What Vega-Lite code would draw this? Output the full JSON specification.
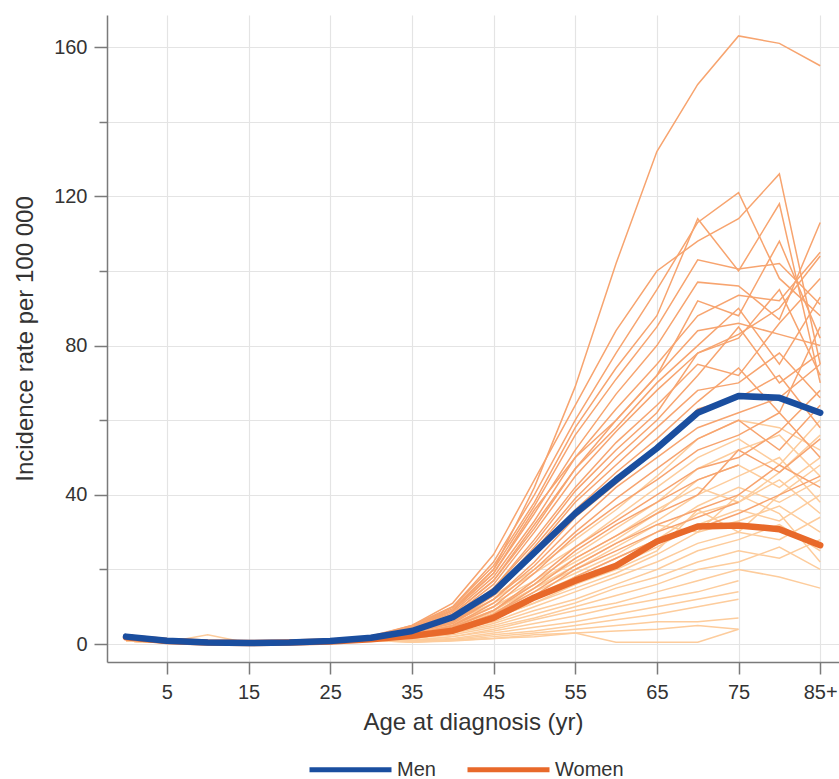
{
"$schema":"https://vega.github.io/schema/vega-lite/v6.json",
"width":732,"height":647,"autosize":"none",
"padding":{"left":107,"top":15,"right":0,"bottom":117},
"background":"white",
"config":{"view":{"stroke":null},"font":"Liberation Sans",
"axis":{"domainColor":"#7a7a7a","domainWidth":1.5,"tickColor":"#7a7a7a","tickWidth":1.5,"gridColor":"#e4e4e4","gridWidth":1.2,"labelColor":"#333","labelFontSize":20,"titleFontSize":24,"titleFontWeight":"normal","titleColor":"#333"},
"legend":{"symbolType":"stroke","symbolStrokeWidth":5,"labelFontSize":20,"labelColor":"#333"}},
"datasets":{
"menReg":[
{"r":"m01","a":0,"v":2.5},{"r":"m01","a":5,"v":1},{"r":"m01","a":10,"v":0.4},{"r":"m01","a":15,"v":0.3},{"r":"m01","a":20,"v":0.5},{"r":"m01","a":25,"v":1},{"r":"m01","a":30,"v":2.2},{"r":"m01","a":35,"v":4.5},{"r":"m01","a":40,"v":9},{"r":"m01","a":45,"v":20},{"r":"m01","a":50,"v":42},{"r":"m01","a":55,"v":69},{"r":"m01","a":60,"v":102},{"r":"m01","a":65,"v":132},{"r":"m01","a":70,"v":150},{"r":"m01","a":75,"v":163},{"r":"m01","a":80,"v":161},{"r":"m01","a":85,"v":155},
{"r":"m02","a":0,"v":2},{"r":"m02","a":5,"v":0.8},{"r":"m02","a":10,"v":0.3},{"r":"m02","a":15,"v":0.2},{"r":"m02","a":20,"v":0.4},{"r":"m02","a":25,"v":0.9},{"r":"m02","a":30,"v":2},{"r":"m02","a":35,"v":5},{"r":"m02","a":40,"v":11},{"r":"m02","a":45,"v":24},{"r":"m02","a":50,"v":44},{"r":"m02","a":55,"v":64},{"r":"m02","a":60,"v":84},{"r":"m02","a":65,"v":100},{"r":"m02","a":70,"v":108},{"r":"m02","a":75,"v":114},{"r":"m02","a":80,"v":126},{"r":"m02","a":85,"v":75},
{"r":"m03","a":0,"v":1.5},{"r":"m03","a":5,"v":0.6},{"r":"m03","a":10,"v":0.3},{"r":"m03","a":15,"v":0.2},{"r":"m03","a":20,"v":0.3},{"r":"m03","a":25,"v":0.7},{"r":"m03","a":30,"v":1.6},{"r":"m03","a":35,"v":4.5},{"r":"m03","a":40,"v":10},{"r":"m03","a":45,"v":22},{"r":"m03","a":50,"v":40},{"r":"m03","a":55,"v":60},{"r":"m03","a":60,"v":78},{"r":"m03","a":65,"v":95},{"r":"m03","a":70,"v":113},{"r":"m03","a":75,"v":121},{"r":"m03","a":80,"v":98},{"r":"m03","a":85,"v":88},
{"r":"m04","a":0,"v":2.5},{"r":"m04","a":5,"v":1},{"r":"m04","a":10,"v":0.4},{"r":"m04","a":15,"v":0.3},{"r":"m04","a":20,"v":0.5},{"r":"m04","a":25,"v":1},{"r":"m04","a":30,"v":2.2},{"r":"m04","a":35,"v":5},{"r":"m04","a":40,"v":10},{"r":"m04","a":45,"v":21},{"r":"m04","a":50,"v":38},{"r":"m04","a":55,"v":58},{"r":"m04","a":60,"v":74},{"r":"m04","a":65,"v":88},{"r":"m04","a":70,"v":114},{"r":"m04","a":75,"v":100},{"r":"m04","a":80,"v":118},{"r":"m04","a":85,"v":70},
{"r":"m05","a":0,"v":2},{"r":"m05","a":5,"v":0.8},{"r":"m05","a":10,"v":0.3},{"r":"m05","a":15,"v":0.2},{"r":"m05","a":20,"v":0.4},{"r":"m05","a":25,"v":0.9},{"r":"m05","a":30,"v":2},{"r":"m05","a":35,"v":4.5},{"r":"m05","a":40,"v":9.5},{"r":"m05","a":45,"v":20},{"r":"m05","a":50,"v":37},{"r":"m05","a":55,"v":56},{"r":"m05","a":60,"v":71},{"r":"m05","a":65,"v":85},{"r":"m05","a":70,"v":103},{"r":"m05","a":75,"v":100.5},{"r":"m05","a":80,"v":102},{"r":"m05","a":85,"v":91},
{"r":"m06","a":0,"v":1.5},{"r":"m06","a":5,"v":0.6},{"r":"m06","a":10,"v":0.3},{"r":"m06","a":15,"v":0.2},{"r":"m06","a":20,"v":0.3},{"r":"m06","a":25,"v":0.7},{"r":"m06","a":30,"v":1.6},{"r":"m06","a":35,"v":4.5},{"r":"m06","a":40,"v":9},{"r":"m06","a":45,"v":19},{"r":"m06","a":50,"v":35},{"r":"m06","a":55,"v":52},{"r":"m06","a":60,"v":67},{"r":"m06","a":65,"v":80},{"r":"m06","a":70,"v":97},{"r":"m06","a":75,"v":96},{"r":"m06","a":80,"v":87},{"r":"m06","a":85,"v":113},
{"r":"m07","a":0,"v":2.5},{"r":"m07","a":5,"v":1},{"r":"m07","a":10,"v":0.4},{"r":"m07","a":15,"v":0.3},{"r":"m07","a":20,"v":0.5},{"r":"m07","a":25,"v":1},{"r":"m07","a":30,"v":2.2},{"r":"m07","a":35,"v":4},{"r":"m07","a":40,"v":8.5},{"r":"m07","a":45,"v":18},{"r":"m07","a":50,"v":33},{"r":"m07","a":55,"v":50},{"r":"m07","a":60,"v":63},{"r":"m07","a":65,"v":75},{"r":"m07","a":70,"v":88},{"r":"m07","a":75,"v":93.5},{"r":"m07","a":80,"v":92},{"r":"m07","a":85,"v":105},
{"r":"m08","a":0,"v":2},{"r":"m08","a":5,"v":0.8},{"r":"m08","a":10,"v":0.3},{"r":"m08","a":15,"v":0.2},{"r":"m08","a":20,"v":0.4},{"r":"m08","a":25,"v":0.9},{"r":"m08","a":30,"v":2},{"r":"m08","a":35,"v":4},{"r":"m08","a":40,"v":8},{"r":"m08","a":45,"v":17},{"r":"m08","a":50,"v":31},{"r":"m08","a":55,"v":47},{"r":"m08","a":60,"v":60},{"r":"m08","a":65,"v":72},{"r":"m08","a":70,"v":84},{"r":"m08","a":75,"v":86},{"r":"m08","a":80,"v":83},{"r":"m08","a":85,"v":80},
{"r":"m09","a":0,"v":1.5},{"r":"m09","a":5,"v":0.6},{"r":"m09","a":10,"v":0.3},{"r":"m09","a":15,"v":0.2},{"r":"m09","a":20,"v":0.3},{"r":"m09","a":25,"v":0.7},{"r":"m09","a":30,"v":1.6},{"r":"m09","a":35,"v":4},{"r":"m09","a":40,"v":8},{"r":"m09","a":45,"v":17},{"r":"m09","a":50,"v":32},{"r":"m09","a":55,"v":47},{"r":"m09","a":60,"v":58},{"r":"m09","a":65,"v":70},{"r":"m09","a":70,"v":80},{"r":"m09","a":75,"v":90},{"r":"m09","a":80,"v":75},{"r":"m09","a":85,"v":93},
{"r":"m10","a":0,"v":2.5},{"r":"m10","a":5,"v":1},{"r":"m10","a":10,"v":0.4},{"r":"m10","a":15,"v":0.3},{"r":"m10","a":20,"v":0.5},{"r":"m10","a":25,"v":1},{"r":"m10","a":30,"v":2.2},{"r":"m10","a":35,"v":3.5},{"r":"m10","a":40,"v":7.5},{"r":"m10","a":45,"v":16},{"r":"m10","a":50,"v":30},{"r":"m10","a":55,"v":45},{"r":"m10","a":60,"v":57},{"r":"m10","a":65,"v":68},{"r":"m10","a":70,"v":78},{"r":"m10","a":75,"v":82},{"r":"m10","a":80,"v":95},{"r":"m10","a":85,"v":72},
{"r":"m11","a":0,"v":2},{"r":"m11","a":5,"v":0.8},{"r":"m11","a":10,"v":0.3},{"r":"m11","a":15,"v":0.2},{"r":"m11","a":20,"v":0.4},{"r":"m11","a":25,"v":0.9},{"r":"m11","a":30,"v":2},{"r":"m11","a":35,"v":3.5},{"r":"m11","a":40,"v":7},{"r":"m11","a":45,"v":15},{"r":"m11","a":50,"v":28},{"r":"m11","a":55,"v":42},{"r":"m11","a":60,"v":54},{"r":"m11","a":65,"v":64},{"r":"m11","a":70,"v":75},{"r":"m11","a":75,"v":72},{"r":"m11","a":80,"v":86},{"r":"m11","a":85,"v":98},
{"r":"m12","a":0,"v":1.5},{"r":"m12","a":5,"v":0.6},{"r":"m12","a":10,"v":0.3},{"r":"m12","a":15,"v":0.2},{"r":"m12","a":20,"v":0.3},{"r":"m12","a":25,"v":0.7},{"r":"m12","a":30,"v":1.6},{"r":"m12","a":35,"v":3.5},{"r":"m12","a":40,"v":7},{"r":"m12","a":45,"v":14},{"r":"m12","a":50,"v":26},{"r":"m12","a":55,"v":39},{"r":"m12","a":60,"v":50},{"r":"m12","a":65,"v":60},{"r":"m12","a":70,"v":72},{"r":"m12","a":75,"v":85},{"r":"m12","a":80,"v":70},{"r":"m12","a":85,"v":78},
{"r":"m13","a":0,"v":2.5},{"r":"m13","a":5,"v":1},{"r":"m13","a":10,"v":0.4},{"r":"m13","a":15,"v":0.3},{"r":"m13","a":20,"v":0.5},{"r":"m13","a":25,"v":1},{"r":"m13","a":30,"v":2.2},{"r":"m13","a":35,"v":3},{"r":"m13","a":40,"v":6.5},{"r":"m13","a":45,"v":14},{"r":"m13","a":50,"v":25},{"r":"m13","a":55,"v":38},{"r":"m13","a":60,"v":48},{"r":"m13","a":65,"v":58},{"r":"m13","a":70,"v":68},{"r":"m13","a":75,"v":70},{"r":"m13","a":80,"v":78},{"r":"m13","a":85,"v":66},
{"r":"m14","a":0,"v":2},{"r":"m14","a":5,"v":0.8},{"r":"m14","a":10,"v":0.3},{"r":"m14","a":15,"v":0.2},{"r":"m14","a":20,"v":0.4},{"r":"m14","a":25,"v":0.9},{"r":"m14","a":30,"v":2},{"r":"m14","a":35,"v":3},{"r":"m14","a":40,"v":6},{"r":"m14","a":45,"v":13},{"r":"m14","a":50,"v":24},{"r":"m14","a":55,"v":36},{"r":"m14","a":60,"v":46},{"r":"m14","a":65,"v":55},{"r":"m14","a":70,"v":65},{"r":"m14","a":75,"v":74},{"r":"m14","a":80,"v":62},{"r":"m14","a":85,"v":85},
{"r":"m15","a":0,"v":1.5},{"r":"m15","a":5,"v":0.6},{"r":"m15","a":10,"v":0.3},{"r":"m15","a":15,"v":0.2},{"r":"m15","a":20,"v":0.3},{"r":"m15","a":25,"v":0.7},{"r":"m15","a":30,"v":1.6},{"r":"m15","a":35,"v":3},{"r":"m15","a":40,"v":6},{"r":"m15","a":45,"v":12},{"r":"m15","a":50,"v":22},{"r":"m15","a":55,"v":34},{"r":"m15","a":60,"v":43},{"r":"m15","a":65,"v":52},{"r":"m15","a":70,"v":63},{"r":"m15","a":75,"v":66},{"r":"m15","a":80,"v":72},{"r":"m15","a":85,"v":58},
{"r":"m16","a":0,"v":2.5},{"r":"m16","a":5,"v":1},{"r":"m16","a":10,"v":0.4},{"r":"m16","a":15,"v":0.3},{"r":"m16","a":20,"v":0.5},{"r":"m16","a":25,"v":1},{"r":"m16","a":30,"v":2.2},{"r":"m16","a":35,"v":3},{"r":"m16","a":40,"v":5.5},{"r":"m16","a":45,"v":12},{"r":"m16","a":50,"v":21},{"r":"m16","a":55,"v":32},{"r":"m16","a":60,"v":42},{"r":"m16","a":65,"v":50},{"r":"m16","a":70,"v":58},{"r":"m16","a":75,"v":62},{"r":"m16","a":80,"v":66},{"r":"m16","a":85,"v":75},
{"r":"m17","a":0,"v":2},{"r":"m17","a":5,"v":0.8},{"r":"m17","a":10,"v":0.3},{"r":"m17","a":15,"v":0.2},{"r":"m17","a":20,"v":0.4},{"r":"m17","a":25,"v":0.9},{"r":"m17","a":30,"v":2},{"r":"m17","a":35,"v":2.5},{"r":"m17","a":40,"v":5},{"r":"m17","a":45,"v":11},{"r":"m17","a":50,"v":20},{"r":"m17","a":55,"v":30},{"r":"m17","a":60,"v":39},{"r":"m17","a":65,"v":47},{"r":"m17","a":70,"v":55},{"r":"m17","a":75,"v":60},{"r":"m17","a":80,"v":52},{"r":"m17","a":85,"v":64},
{"r":"m18","a":0,"v":1.5},{"r":"m18","a":5,"v":0.6},{"r":"m18","a":10,"v":0.3},{"r":"m18","a":15,"v":0.2},{"r":"m18","a":20,"v":0.3},{"r":"m18","a":25,"v":0.7},{"r":"m18","a":30,"v":1.6},{"r":"m18","a":35,"v":2.5},{"r":"m18","a":40,"v":5},{"r":"m18","a":45,"v":10},{"r":"m18","a":50,"v":19},{"r":"m18","a":55,"v":29},{"r":"m18","a":60,"v":37},{"r":"m18","a":65,"v":44},{"r":"m18","a":70,"v":52},{"r":"m18","a":75,"v":56},{"r":"m18","a":80,"v":62},{"r":"m18","a":85,"v":50},
{"r":"m19","a":0,"v":2.5},{"r":"m19","a":5,"v":1},{"r":"m19","a":10,"v":0.4},{"r":"m19","a":15,"v":0.3},{"r":"m19","a":20,"v":0.5},{"r":"m19","a":25,"v":1},{"r":"m19","a":30,"v":2.2},{"r":"m19","a":35,"v":2.5},{"r":"m19","a":40,"v":4.5},{"r":"m19","a":45,"v":9},{"r":"m19","a":50,"v":17},{"r":"m19","a":55,"v":26},{"r":"m19","a":60,"v":33},{"r":"m19","a":65,"v":40},{"r":"m19","a":70,"v":47},{"r":"m19","a":75,"v":50},{"r":"m19","a":80,"v":57},{"r":"m19","a":85,"v":68},
{"r":"m20","a":0,"v":2},{"r":"m20","a":5,"v":0.8},{"r":"m20","a":10,"v":0.3},{"r":"m20","a":15,"v":0.2},{"r":"m20","a":20,"v":0.4},{"r":"m20","a":25,"v":0.9},{"r":"m20","a":30,"v":2},{"r":"m20","a":35,"v":2},{"r":"m20","a":40,"v":4.5},{"r":"m20","a":45,"v":9},{"r":"m20","a":50,"v":16},{"r":"m20","a":55,"v":25},{"r":"m20","a":60,"v":32},{"r":"m20","a":65,"v":38},{"r":"m20","a":70,"v":44},{"r":"m20","a":75,"v":48},
{"r":"m21","a":0,"v":1.5},{"r":"m21","a":5,"v":0.6},{"r":"m21","a":10,"v":0.3},{"r":"m21","a":15,"v":0.2},{"r":"m21","a":20,"v":0.3},{"r":"m21","a":25,"v":0.7},{"r":"m21","a":30,"v":1.6},{"r":"m21","a":35,"v":2},{"r":"m21","a":40,"v":4},{"r":"m21","a":45,"v":8},{"r":"m21","a":50,"v":15},{"r":"m21","a":55,"v":23},{"r":"m21","a":60,"v":29},{"r":"m21","a":65,"v":35},{"r":"m21","a":70,"v":40},{"r":"m21","a":75,"v":52},{"r":"m21","a":80,"v":46},{"r":"m21","a":85,"v":55},
{"r":"m22","a":0,"v":2.5},{"r":"m22","a":5,"v":1},{"r":"m22","a":10,"v":0.4},{"r":"m22","a":15,"v":0.3},{"r":"m22","a":20,"v":0.5},{"r":"m22","a":25,"v":1},{"r":"m22","a":30,"v":2.2},{"r":"m22","a":35,"v":2},{"r":"m22","a":40,"v":4},{"r":"m22","a":45,"v":8},{"r":"m22","a":50,"v":14},{"r":"m22","a":55,"v":21},{"r":"m22","a":60,"v":27},{"r":"m22","a":65,"v":32},{"r":"m22","a":70,"v":36},{"r":"m22","a":75,"v":40},{"r":"m22","a":80,"v":48},{"r":"m22","a":85,"v":42},
{"r":"m23","a":0,"v":2},{"r":"m23","a":5,"v":0.8},{"r":"m23","a":10,"v":0.3},{"r":"m23","a":15,"v":0.2},{"r":"m23","a":20,"v":0.4},{"r":"m23","a":25,"v":0.9},{"r":"m23","a":30,"v":2},{"r":"m23","a":35,"v":2},{"r":"m23","a":40,"v":3.5},{"r":"m23","a":45,"v":7},{"r":"m23","a":50,"v":13},{"r":"m23","a":55,"v":20},{"r":"m23","a":60,"v":25},{"r":"m23","a":65,"v":30},{"r":"m23","a":70,"v":34},{"r":"m23","a":75,"v":38},
{"r":"m24","a":0,"v":1.5},{"r":"m24","a":5,"v":0.6},{"r":"m24","a":10,"v":0.3},{"r":"m24","a":15,"v":0.2},{"r":"m24","a":20,"v":0.3},{"r":"m24","a":25,"v":0.7},{"r":"m24","a":30,"v":1.6},{"r":"m24","a":35,"v":3.5},{"r":"m24","a":40,"v":7},{"r":"m24","a":45,"v":15},{"r":"m24","a":50,"v":27},{"r":"m24","a":55,"v":41},{"r":"m24","a":60,"v":52},{"r":"m24","a":65,"v":62},{"r":"m24","a":70,"v":78},{"r":"m24","a":75,"v":83},{"r":"m24","a":80,"v":90},{"r":"m24","a":85,"v":104},
{"r":"m25","a":0,"v":2.5},{"r":"m25","a":5,"v":1},{"r":"m25","a":10,"v":0.4},{"r":"m25","a":15,"v":0.3},{"r":"m25","a":20,"v":0.5},{"r":"m25","a":25,"v":1},{"r":"m25","a":30,"v":2.2},{"r":"m25","a":35,"v":4},{"r":"m25","a":40,"v":9},{"r":"m25","a":45,"v":19},{"r":"m25","a":50,"v":36},{"r":"m25","a":55,"v":50},{"r":"m25","a":60,"v":60},{"r":"m25","a":65,"v":72},{"r":"m25","a":70,"v":92},{"r":"m25","a":75,"v":88},{"r":"m25","a":80,"v":108},{"r":"m25","a":85,"v":82},
{"r":"m26","a":0,"v":2},{"r":"m26","a":5,"v":0.8},{"r":"m26","a":10,"v":0.3},{"r":"m26","a":15,"v":0.2},{"r":"m26","a":20,"v":0.4},{"r":"m26","a":25,"v":0.9},{"r":"m26","a":30,"v":2},{"r":"m26","a":35,"v":1.5},{"r":"m26","a":40,"v":3},{"r":"m26","a":45,"v":6.5},{"r":"m26","a":50,"v":12},{"r":"m26","a":55,"v":18},{"r":"m26","a":60,"v":23},{"r":"m26","a":65,"v":28},{"r":"m26","a":70,"v":31},{"r":"m26","a":75,"v":35},{"r":"m26","a":80,"v":40},{"r":"m26","a":85,"v":45}
],
"womenReg":[
{"r":"w01","a":0,"v":1.2},{"r":"w01","a":5,"v":0.5},{"r":"w01","a":10,"v":0.3},{"r":"w01","a":15,"v":0.2},{"r":"w01","a":20,"v":0.3},{"r":"w01","a":25,"v":0.6},{"r":"w01","a":30,"v":1.3},{"r":"w01","a":35,"v":3.5},{"r":"w01","a":40,"v":7},{"r":"w01","a":45,"v":13},{"r":"w01","a":50,"v":20},{"r":"w01","a":55,"v":28},{"r":"w01","a":60,"v":36},{"r":"w01","a":65,"v":45},{"r":"w01","a":70,"v":55},{"r":"w01","a":75,"v":60},{"r":"w01","a":80,"v":58},{"r":"w01","a":85,"v":52},
{"r":"w02","a":0,"v":0.8},{"r":"w02","a":5,"v":0.4},{"r":"w02","a":10,"v":0.2},{"r":"w02","a":15,"v":0.1},{"r":"w02","a":20,"v":0.2},{"r":"w02","a":25,"v":0.5},{"r":"w02","a":30,"v":1},{"r":"w02","a":35,"v":3.5},{"r":"w02","a":40,"v":6.5},{"r":"w02","a":45,"v":12},{"r":"w02","a":50,"v":19},{"r":"w02","a":55,"v":26},{"r":"w02","a":60,"v":34},{"r":"w02","a":65,"v":42},{"r":"w02","a":70,"v":50},{"r":"w02","a":75,"v":55},{"r":"w02","a":80,"v":48},{"r":"w02","a":85,"v":60},
{"r":"w03","a":0,"v":1},{"r":"w03","a":5,"v":0.5},{"r":"w03","a":10,"v":2.5},{"r":"w03","a":15,"v":0.3},{"r":"w03","a":20,"v":0.3},{"r":"w03","a":25,"v":0.5},{"r":"w03","a":30,"v":1.1},{"r":"w03","a":35,"v":3},{"r":"w03","a":40,"v":6},{"r":"w03","a":45,"v":11},{"r":"w03","a":50,"v":17},{"r":"w03","a":55,"v":24},{"r":"w03","a":60,"v":31},{"r":"w03","a":65,"v":38},{"r":"w03","a":70,"v":47},{"r":"w03","a":75,"v":52},{"r":"w03","a":80,"v":56},{"r":"w03","a":85,"v":45},
{"r":"w04","a":0,"v":1.2},{"r":"w04","a":5,"v":0.5},{"r":"w04","a":10,"v":0.3},{"r":"w04","a":15,"v":0.2},{"r":"w04","a":20,"v":0.3},{"r":"w04","a":25,"v":0.6},{"r":"w04","a":30,"v":1.3},{"r":"w04","a":35,"v":3},{"r":"w04","a":40,"v":5.5},{"r":"w04","a":45,"v":10},{"r":"w04","a":50,"v":16},{"r":"w04","a":55,"v":22},{"r":"w04","a":60,"v":28},{"r":"w04","a":65,"v":35},{"r":"w04","a":70,"v":44},{"r":"w04","a":75,"v":48},{"r":"w04","a":80,"v":42},{"r":"w04","a":85,"v":50},
{"r":"w05","a":0,"v":0.8},{"r":"w05","a":5,"v":0.4},{"r":"w05","a":10,"v":0.2},{"r":"w05","a":15,"v":0.1},{"r":"w05","a":20,"v":0.2},{"r":"w05","a":25,"v":0.5},{"r":"w05","a":30,"v":1},{"r":"w05","a":35,"v":2.5},{"r":"w05","a":40,"v":5},{"r":"w05","a":45,"v":9},{"r":"w05","a":50,"v":15},{"r":"w05","a":55,"v":21},{"r":"w05","a":60,"v":27},{"r":"w05","a":65,"v":33},{"r":"w05","a":70,"v":40},{"r":"w05","a":75,"v":45},{"r":"w05","a":80,"v":50},{"r":"w05","a":85,"v":38},
{"r":"w06","a":0,"v":1.2},{"r":"w06","a":5,"v":0.5},{"r":"w06","a":10,"v":0.3},{"r":"w06","a":15,"v":0.2},{"r":"w06","a":20,"v":0.3},{"r":"w06","a":25,"v":0.6},{"r":"w06","a":30,"v":1.3},{"r":"w06","a":35,"v":2.5},{"r":"w06","a":40,"v":4.5},{"r":"w06","a":45,"v":8.5},{"r":"w06","a":50,"v":14},{"r":"w06","a":55,"v":19},{"r":"w06","a":60,"v":24},{"r":"w06","a":65,"v":30},{"r":"w06","a":70,"v":37},{"r":"w06","a":75,"v":42},{"r":"w06","a":80,"v":38},{"r":"w06","a":85,"v":44},
{"r":"w07","a":0,"v":0.8},{"r":"w07","a":5,"v":0.4},{"r":"w07","a":10,"v":0.2},{"r":"w07","a":15,"v":0.1},{"r":"w07","a":20,"v":0.2},{"r":"w07","a":25,"v":0.5},{"r":"w07","a":30,"v":1},{"r":"w07","a":35,"v":2.5},{"r":"w07","a":40,"v":4.5},{"r":"w07","a":45,"v":8},{"r":"w07","a":50,"v":13},{"r":"w07","a":55,"v":18},{"r":"w07","a":60,"v":23},{"r":"w07","a":65,"v":28},{"r":"w07","a":70,"v":35},{"r":"w07","a":75,"v":38},{"r":"w07","a":80,"v":44},{"r":"w07","a":85,"v":35},
{"r":"w08","a":0,"v":1.2},{"r":"w08","a":5,"v":0.5},{"r":"w08","a":10,"v":0.3},{"r":"w08","a":15,"v":0.2},{"r":"w08","a":20,"v":0.3},{"r":"w08","a":25,"v":0.6},{"r":"w08","a":30,"v":1.3},{"r":"w08","a":35,"v":2},{"r":"w08","a":40,"v":4},{"r":"w08","a":45,"v":7},{"r":"w08","a":50,"v":12},{"r":"w08","a":55,"v":16},{"r":"w08","a":60,"v":21},{"r":"w08","a":65,"v":26},{"r":"w08","a":70,"v":32},{"r":"w08","a":75,"v":36},{"r":"w08","a":80,"v":33},{"r":"w08","a":85,"v":40},
{"r":"w09","a":0,"v":0.8},{"r":"w09","a":5,"v":0.4},{"r":"w09","a":10,"v":0.2},{"r":"w09","a":15,"v":0.1},{"r":"w09","a":20,"v":0.2},{"r":"w09","a":25,"v":0.5},{"r":"w09","a":30,"v":1},{"r":"w09","a":35,"v":2},{"r":"w09","a":40,"v":3.5},{"r":"w09","a":45,"v":7},{"r":"w09","a":50,"v":11},{"r":"w09","a":55,"v":15},{"r":"w09","a":60,"v":19},{"r":"w09","a":65,"v":24},{"r":"w09","a":70,"v":30},{"r":"w09","a":75,"v":33},{"r":"w09","a":80,"v":37},{"r":"w09","a":85,"v":30},
{"r":"w10","a":0,"v":1.2},{"r":"w10","a":5,"v":0.5},{"r":"w10","a":10,"v":0.3},{"r":"w10","a":15,"v":0.2},{"r":"w10","a":20,"v":0.3},{"r":"w10","a":25,"v":0.6},{"r":"w10","a":30,"v":1.3},{"r":"w10","a":35,"v":2},{"r":"w10","a":40,"v":3.5},{"r":"w10","a":45,"v":6},{"r":"w10","a":50,"v":10},{"r":"w10","a":55,"v":14},{"r":"w10","a":60,"v":18},{"r":"w10","a":65,"v":22},{"r":"w10","a":70,"v":27},{"r":"w10","a":75,"v":30},{"r":"w10","a":80,"v":28},{"r":"w10","a":85,"v":34},
{"r":"w11","a":0,"v":0.8},{"r":"w11","a":5,"v":0.4},{"r":"w11","a":10,"v":0.2},{"r":"w11","a":15,"v":0.1},{"r":"w11","a":20,"v":0.2},{"r":"w11","a":25,"v":0.5},{"r":"w11","a":30,"v":1},{"r":"w11","a":35,"v":1.5},{"r":"w11","a":40,"v":3},{"r":"w11","a":45,"v":5.5},{"r":"w11","a":50,"v":9},{"r":"w11","a":55,"v":12},{"r":"w11","a":60,"v":16},{"r":"w11","a":65,"v":20},{"r":"w11","a":70,"v":25},{"r":"w11","a":75,"v":28},{"r":"w11","a":80,"v":32},{"r":"w11","a":85,"v":25},
{"r":"w12","a":0,"v":1.2},{"r":"w12","a":5,"v":0.5},{"r":"w12","a":10,"v":0.3},{"r":"w12","a":15,"v":0.2},{"r":"w12","a":20,"v":0.3},{"r":"w12","a":25,"v":0.6},{"r":"w12","a":30,"v":1.3},{"r":"w12","a":35,"v":1.5},{"r":"w12","a":40,"v":3},{"r":"w12","a":45,"v":5},{"r":"w12","a":50,"v":8},{"r":"w12","a":55,"v":11},{"r":"w12","a":60,"v":15},{"r":"w12","a":65,"v":18},{"r":"w12","a":70,"v":22},{"r":"w12","a":75,"v":25},{"r":"w12","a":80,"v":23},{"r":"w12","a":85,"v":28},
{"r":"w13","a":0,"v":0.8},{"r":"w13","a":5,"v":0.4},{"r":"w13","a":10,"v":0.2},{"r":"w13","a":15,"v":0.1},{"r":"w13","a":20,"v":0.2},{"r":"w13","a":25,"v":0.5},{"r":"w13","a":30,"v":1},{"r":"w13","a":35,"v":1.5},{"r":"w13","a":40,"v":2.5},{"r":"w13","a":45,"v":4.5},{"r":"w13","a":50,"v":7},{"r":"w13","a":55,"v":10},{"r":"w13","a":60,"v":13},{"r":"w13","a":65,"v":16},{"r":"w13","a":70,"v":20},{"r":"w13","a":75,"v":22},{"r":"w13","a":80,"v":26},{"r":"w13","a":85,"v":20},
{"r":"w14","a":0,"v":1.2},{"r":"w14","a":5,"v":0.5},{"r":"w14","a":10,"v":0.3},{"r":"w14","a":15,"v":0.2},{"r":"w14","a":20,"v":0.3},{"r":"w14","a":25,"v":0.6},{"r":"w14","a":30,"v":1.3},{"r":"w14","a":35,"v":1},{"r":"w14","a":40,"v":2},{"r":"w14","a":45,"v":4},{"r":"w14","a":50,"v":6.5},{"r":"w14","a":55,"v":9},{"r":"w14","a":60,"v":11},{"r":"w14","a":65,"v":14},{"r":"w14","a":70,"v":17},{"r":"w14","a":75,"v":20},{"r":"w14","a":80,"v":18},{"r":"w14","a":85,"v":15},
{"r":"w15","a":0,"v":0.8},{"r":"w15","a":5,"v":0.4},{"r":"w15","a":10,"v":0.2},{"r":"w15","a":15,"v":0.1},{"r":"w15","a":20,"v":0.2},{"r":"w15","a":25,"v":0.5},{"r":"w15","a":30,"v":1},{"r":"w15","a":35,"v":1},{"r":"w15","a":40,"v":2},{"r":"w15","a":45,"v":3.5},{"r":"w15","a":50,"v":5.5},{"r":"w15","a":55,"v":7.5},{"r":"w15","a":60,"v":10},{"r":"w15","a":65,"v":12},{"r":"w15","a":70,"v":14},{"r":"w15","a":75,"v":17},
{"r":"w16","a":0,"v":1.2},{"r":"w16","a":5,"v":0.5},{"r":"w16","a":10,"v":0.3},{"r":"w16","a":15,"v":0.2},{"r":"w16","a":20,"v":0.3},{"r":"w16","a":25,"v":0.6},{"r":"w16","a":30,"v":1.3},{"r":"w16","a":35,"v":1},{"r":"w16","a":40,"v":1.5},{"r":"w16","a":45,"v":3},{"r":"w16","a":50,"v":4.5},{"r":"w16","a":55,"v":6},{"r":"w16","a":60,"v":8},{"r":"w16","a":65,"v":10},{"r":"w16","a":70,"v":12},{"r":"w16","a":75,"v":14},
{"r":"w17","a":0,"v":0.8},{"r":"w17","a":5,"v":0.4},{"r":"w17","a":10,"v":0.2},{"r":"w17","a":15,"v":0.1},{"r":"w17","a":20,"v":0.2},{"r":"w17","a":25,"v":0.5},{"r":"w17","a":30,"v":1},{"r":"w17","a":35,"v":0.8},{"r":"w17","a":40,"v":1.2},{"r":"w17","a":45,"v":2.5},{"r":"w17","a":50,"v":3.5},{"r":"w17","a":55,"v":5},{"r":"w17","a":60,"v":6.5},{"r":"w17","a":65,"v":8},{"r":"w17","a":70,"v":10},{"r":"w17","a":75,"v":12},
{"r":"w18","a":0,"v":1.2},{"r":"w18","a":5,"v":0.5},{"r":"w18","a":10,"v":0.3},{"r":"w18","a":15,"v":0.2},{"r":"w18","a":20,"v":0.3},{"r":"w18","a":25,"v":0.6},{"r":"w18","a":30,"v":1.3},{"r":"w18","a":35,"v":0.6},{"r":"w18","a":40,"v":1},{"r":"w18","a":45,"v":2},{"r":"w18","a":50,"v":3},{"r":"w18","a":55,"v":4},{"r":"w18","a":60,"v":5},{"r":"w18","a":65,"v":6},{"r":"w18","a":70,"v":6},{"r":"w18","a":75,"v":7},
{"r":"w19","a":0,"v":0.8},{"r":"w19","a":5,"v":0.4},{"r":"w19","a":10,"v":0.2},{"r":"w19","a":15,"v":0.1},{"r":"w19","a":20,"v":0.2},{"r":"w19","a":25,"v":0.5},{"r":"w19","a":30,"v":1},{"r":"w19","a":35,"v":0.5},{"r":"w19","a":40,"v":0.8},{"r":"w19","a":45,"v":1.5},{"r":"w19","a":50,"v":2},{"r":"w19","a":55,"v":3},{"r":"w19","a":60,"v":3.5},{"r":"w19","a":65,"v":4},{"r":"w19","a":70,"v":5},{"r":"w19","a":75,"v":4},
{"r":"w20","a":0,"v":1.2},{"r":"w20","a":5,"v":0.5},{"r":"w20","a":10,"v":0.3},{"r":"w20","a":15,"v":0.2},{"r":"w20","a":20,"v":0.3},{"r":"w20","a":25,"v":0.6},{"r":"w20","a":30,"v":1.3},{"r":"w20","a":35,"v":2},{"r":"w20","a":40,"v":4},{"r":"w20","a":45,"v":7},{"r":"w20","a":50,"v":11},{"r":"w20","a":55,"v":16},{"r":"w20","a":60,"v":20},{"r":"w20","a":65,"v":25},{"r":"w20","a":70,"v":36},{"r":"w20","a":75,"v":30},{"r":"w20","a":80,"v":40},{"r":"w20","a":85,"v":48},
{"r":"w21","a":0,"v":0.8},{"r":"w21","a":5,"v":0.4},{"r":"w21","a":10,"v":0.2},{"r":"w21","a":15,"v":0.1},{"r":"w21","a":20,"v":0.2},{"r":"w21","a":25,"v":0.5},{"r":"w21","a":30,"v":1},{"r":"w21","a":35,"v":2.5},{"r":"w21","a":40,"v":5},{"r":"w21","a":45,"v":9},{"r":"w21","a":50,"v":15},{"r":"w21","a":55,"v":20},{"r":"w21","a":60,"v":26},{"r":"w21","a":65,"v":32},{"r":"w21","a":70,"v":30},{"r":"w21","a":75,"v":40},{"r":"w21","a":80,"v":35},{"r":"w21","a":85,"v":22},
{"r":"w22","a":0,"v":1.2},{"r":"w22","a":5,"v":0.5},{"r":"w22","a":10,"v":0.3},{"r":"w22","a":15,"v":0.2},{"r":"w22","a":20,"v":0.3},{"r":"w22","a":25,"v":0.6},{"r":"w22","a":30,"v":1.3},{"r":"w22","a":35,"v":3},{"r":"w22","a":40,"v":5.5},{"r":"w22","a":45,"v":10},{"r":"w22","a":50,"v":16},{"r":"w22","a":55,"v":23},{"r":"w22","a":60,"v":29},{"r":"w22","a":65,"v":36},{"r":"w22","a":70,"v":42},{"r":"w22","a":75,"v":38},{"r":"w22","a":80,"v":46},{"r":"w22","a":85,"v":56},
{"r":"w23","a":0,"v":0.8},{"r":"w23","a":5,"v":0.4},{"r":"w23","a":10,"v":0.2},{"r":"w23","a":15,"v":0.1},{"r":"w23","a":20,"v":0.2},{"r":"w23","a":25,"v":0.5},{"r":"w23","a":30,"v":1},{"r":"w23","a":35,"v":0.5},{"r":"w23","a":40,"v":1},{"r":"w23","a":45,"v":1.5},{"r":"w23","a":50,"v":2.5},{"r":"w23","a":55,"v":3},{"r":"w23","a":60,"v":0.5},{"r":"w23","a":65,"v":0.5},{"r":"w23","a":70,"v":0.5},{"r":"w23","a":75,"v":4}
],
"avg":[
{"sex":"Women","a":0,"v":1.8},{"sex":"Women","a":5,"v":0.8},{"sex":"Women","a":10,"v":0.4},{"sex":"Women","a":15,"v":0.3},{"sex":"Women","a":20,"v":0.4},{"sex":"Women","a":25,"v":0.7},{"sex":"Women","a":30,"v":1.3},{"sex":"Women","a":35,"v":2.2},{"sex":"Women","a":40,"v":3.6},{"sex":"Women","a":45,"v":7},{"sex":"Women","a":50,"v":12.5},{"sex":"Women","a":55,"v":17},{"sex":"Women","a":60,"v":21},{"sex":"Women","a":65,"v":27.5},{"sex":"Women","a":70,"v":31.5},{"sex":"Women","a":75,"v":31.8},{"sex":"Women","a":80,"v":30.8},{"sex":"Women","a":85,"v":26.5},
{"sex":"Men","a":0,"v":2},{"sex":"Men","a":5,"v":0.9},{"sex":"Men","a":10,"v":0.4},{"sex":"Men","a":15,"v":0.3},{"sex":"Men","a":20,"v":0.4},{"sex":"Men","a":25,"v":0.8},{"sex":"Men","a":30,"v":1.7},{"sex":"Men","a":35,"v":3.5},{"sex":"Men","a":40,"v":7.2},{"sex":"Men","a":45,"v":14},{"sex":"Men","a":50,"v":24.5},{"sex":"Men","a":55,"v":35},{"sex":"Men","a":60,"v":44},{"sex":"Men","a":65,"v":52.5},{"sex":"Men","a":70,"v":62},{"sex":"Men","a":75,"v":66.5},{"sex":"Men","a":80,"v":66},{"sex":"Men","a":85,"v":62}
]},
"encoding":{
"x":{"field":"a","type":"quantitative","scale":{"domain":[-2.33,87.3],"nice":false,"zero":false},
"axis":{"values":[5,15,25,35,45,55,65,75,85],"labelExpr":"datum.value==85?'85+':datum.label","title":"Age at diagnosis (yr)","grid":true,"tickSize":12,"labelPadding":8,"titlePadding":8}},
"y":{"field":"v","type":"quantitative","scale":{"domain":[-4.8,168.6],"nice":false,"zero":false},
"axis":{"values":[0,20,40,60,80,100,120,140,160],"labelExpr":"datum.value%40==0?datum.label:''","title":"Incidence rate per 100 000","grid":true,"tickSize":{"condition":{"test":"datum.value%40==0","value":13},"value":8},"labelPadding":7,"titlePadding":16}}
},
"layer":[
{"data":{"name":"womenReg"},"mark":{"type":"line","color":"#fdcc9c","strokeWidth":1.5},"encoding":{"detail":{"field":"r"}}},
{"data":{"name":"menReg"},"mark":{"type":"line","color":"#f7a46f","strokeWidth":1.5},"encoding":{"detail":{"field":"r"}}},
{"data":{"name":"avg"},"transform":[{"filter":"datum.sex=='Women'"}],"mark":{"type":"line","strokeWidth":6.5,"strokeCap":"round","strokeJoin":"round"},
"encoding":{"color":{"datum":"Women","type":"nominal","scale":{"domain":["Men","Women"],"range":["#1a4e9f","#e8692a"]},
"legend":{"orient":"none","legendX":200,"legendY":711,"direction":"horizontal","symbolType":"stroke","symbolSize":6724,"symbolStrokeWidth":5,"labelFontSize":20,"labelColor":"#333","columnPadding":21,"labelOffset":3,"title":null}}}},
{"data":{"name":"avg"},"transform":[{"filter":"datum.sex=='Men'"}],"mark":{"type":"line","strokeWidth":6.5,"strokeCap":"round","strokeJoin":"round"},
"encoding":{"color":{"datum":"Men","type":"nominal"}}}
]
}
